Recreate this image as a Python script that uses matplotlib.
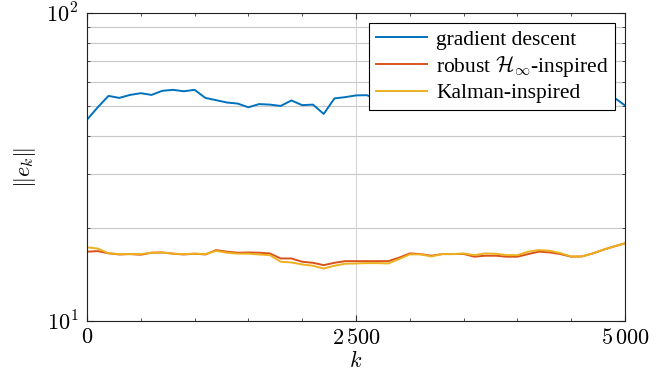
import numpy as np
import matplotlib
matplotlib.use("Agg")
import matplotlib.pyplot as plt
from matplotlib.ticker import FixedLocator, NullFormatter

plt.rcParams['font.family'] = ['Liberation Serif', 'DejaVu Serif']
plt.rcParams['mathtext.fontset'] = 'cm'

# iterations, sampled every 100 steps
k = np.arange(0, 5001, 100)

gradient_descent = [
    45.1, 49.5, 53.9, 53.1, 54.3, 55.0, 54.3, 56.0, 56.4, 55.8,
    56.4, 53.1, 52.2, 51.3, 50.9, 49.5, 50.7, 50.5, 50.0, 52.1,
    50.3, 50.5, 47.1, 52.9, 53.4, 54.1, 54.2, 52.5, 53.5, 54.5,
    55.0, 54.6, 55.2, 55.8, 55.3, 54.9, 55.6, 56.1, 55.4, 54.8,
    55.5, 56.0, 55.7, 55.1, 55.9, 56.3, 55.6, 55.2, 55.8, 53.2,
    50.2,
]
robust_hinf = [
    16.80, 16.87, 16.60, 16.45, 16.50, 16.42, 16.67, 16.70, 16.55, 16.45,
    16.55, 16.45, 17.00, 16.80, 16.67, 16.70, 16.67, 16.58, 15.97, 15.97,
    15.58, 15.46, 15.19, 15.46, 15.65, 15.65, 15.65, 15.65, 15.65, 16.06,
    16.58, 16.50, 16.30, 16.50, 16.50, 16.52, 16.18, 16.30, 16.30, 16.18,
    16.18, 16.50, 16.80, 16.71, 16.50, 16.18, 16.21, 16.58, 17.05, 17.48,
    17.88,
]
kalman = [
    17.35, 17.20, 16.60, 16.50, 16.50, 16.50, 16.67, 16.70, 16.55, 16.50,
    16.55, 16.50, 16.90, 16.67, 16.55, 16.55, 16.45, 16.37, 15.58, 15.50,
    15.27, 15.12, 14.81, 15.12, 15.35, 15.38, 15.42, 15.42, 15.38, 15.89,
    16.46, 16.46, 16.21, 16.50, 16.50, 16.58, 16.37, 16.58, 16.55, 16.37,
    16.37, 16.80, 17.00, 16.92, 16.62, 16.21, 16.21, 16.58, 17.05, 17.48,
    17.88,
]

labels = ['gradient descent', r'robust $\mathcal{H}_\infty$-inspired', 'Kalman-inspired']
colors = ['#0072BD', '#D95319', '#EDB120']

xticks = [0, 2500, 5000]
xticklabels = ['$0$', r'$2\,500$', r'$5\,000$']
yticks = [10, 100]
yticklabels = ['$10^{1}$', '$10^{2}$']

fig = plt.figure(figsize=(6.58, 3.74), dpi=100)
ax = fig.add_axes([0.1322, 0.1417, 0.8176, 0.8227])

for series, lab, c in zip([gradient_descent, robust_hinf, kalman], labels, colors):
    ax.plot(k, series, color=c, lw=1.4, label=lab)

ax.set_yscale('log')
ax.set_xlim(0, 5000)
ax.set_ylim(10, 100)

ax.xaxis.set_major_locator(FixedLocator(xticks))
ax.set_xticklabels(xticklabels)
ax.xaxis.set_minor_locator(FixedLocator(np.arange(500, 5000, 500)))
ax.yaxis.set_major_locator(FixedLocator(yticks))
ax.set_yticklabels(yticklabels)
ax.yaxis.set_minor_locator(FixedLocator(np.arange(20, 100, 10)))
ax.yaxis.set_minor_formatter(NullFormatter())

ax.tick_params(which='both', direction='in', top=True, right=True,
               labelsize=16, color='#333333')
ax.tick_params(which='major', length=4, width=0.8, pad=6)
ax.tick_params(which='minor', length=2.5, width=0.6)

ax.grid(True, which='major', axis='x', color='#d4d4d4', lw=0.8)
ax.grid(True, which='both', axis='y', color='#c8c8c8', lw=0.8)
ax.set_axisbelow(True)
for s in ax.spines.values():
    s.set_color('#222222')
    s.set_linewidth(0.8)

ax.set_xlabel('$k$', fontsize=16, labelpad=1)
ax.set_ylabel(r'$\|e_k\|$', fontsize=16, labelpad=6)

leg = ax.legend(loc='upper right', fontsize=15.5, frameon=True, fancybox=False,
                framealpha=1, edgecolor='black', borderaxespad=0.45,
                handlelength=2.4, handletextpad=0.4, labelspacing=0.2,
                borderpad=0.3)
leg.get_frame().set_linewidth(0.8)

fig.savefig('out.png', dpi=100)
